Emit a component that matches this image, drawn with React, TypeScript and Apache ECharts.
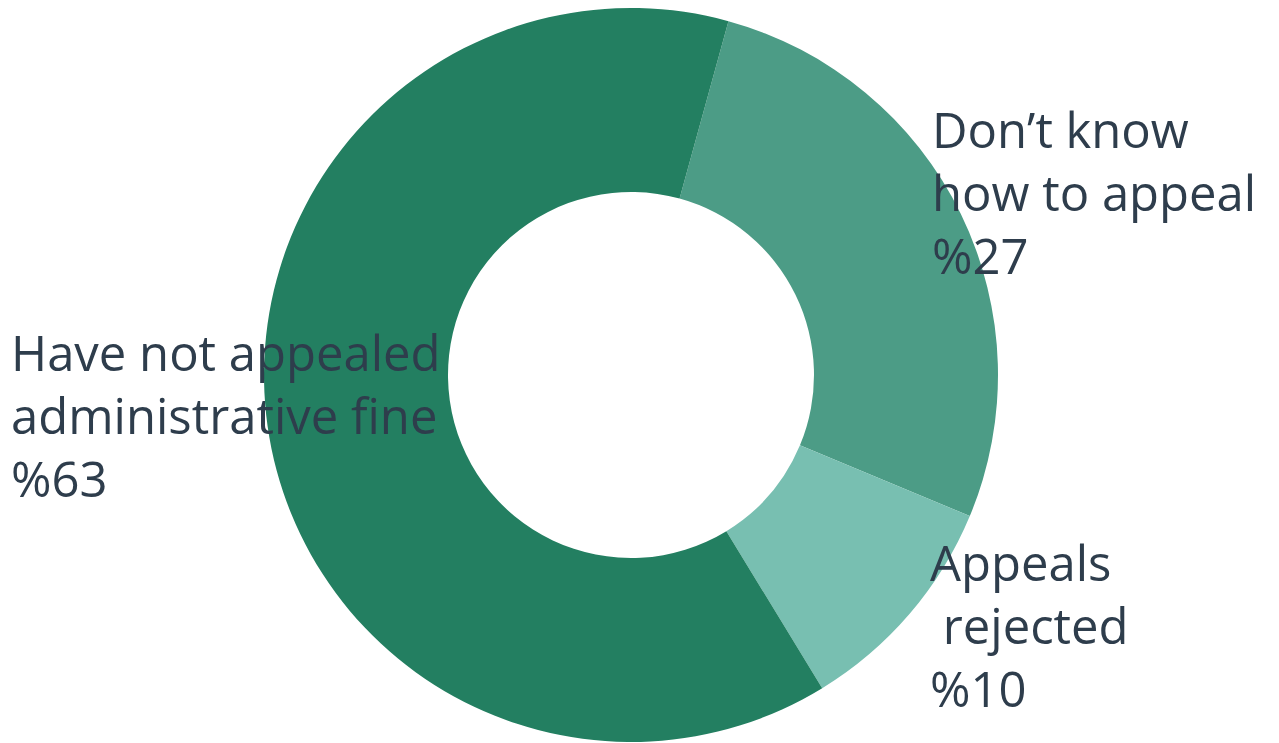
import React, { useEffect, useRef } from "react";
import * as echarts from "echarts";

const categories = ["Don’t know how to appeal", "Appeals rejected", "Have not appealed administrative fine"];
const labelTexts = ["Don’t know\nhow to appeal", "Appeals\n rejected", "Have not appealed\nadministrative fine"];
const values = [27, 10, 63];
const colors = ["#4c9c86", "#78bfb1", "#237f61"];
const labelAnchors = [
  { x: 932, y: 97 },
  { x: 930, y: 530 },
  { x: 11, y: 320 },
];

export default function App() {
  const ref = useRef<HTMLDivElement>(null);
  useEffect(() => {
    document.body.style.margin = "0";
    const chart = echarts.init(ref.current!, null, { renderer: "svg" });
    chart.setOption({
      animation: false,
      backgroundColor: "#ffffff",
      series: [
        {
          type: "pie",
          center: [631, 375],
          radius: [183, 367],
          startAngle: 74.6,
          clockwise: true,
          avoidLabelOverlap: false,
          silent: true,
          data: categories.map((name, i) => ({
            name,
            value: values[i],
            itemStyle: { color: colors[i] },
            label: { formatter: labelTexts[i] + "\n%" + values[i] },
          })),
          label: {
            show: true,
            position: "outside",
            color: "#2e3d4c",
            fontFamily: "Open Sans",
            fontWeight: 500,
            fontSize: 49,
            lineHeight: 63,
            align: "left",
          },
          labelLine: { show: false },
          labelLayout: (params: any) => {
            const a = labelAnchors[params.dataIndex];
            return { x: a.x, y: a.y, align: "left", verticalAlign: "top" };
          },
        },
      ],
    });
    return () => chart.dispose();
  }, []);
  return <div ref={ref} style={{ position: "fixed", left: 0, top: 0, width: 1279, height: 743 }} />;
}
